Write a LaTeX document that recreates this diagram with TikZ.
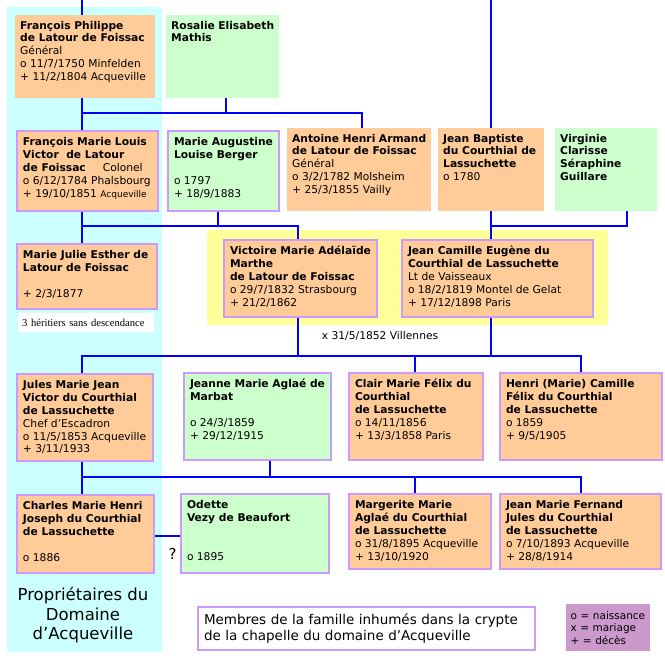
\documentclass[tikz,border=0pt]{standalone}
\usepackage{fontspec}
\setmainfont{DejaVu Sans}
\newfontfamily\notefont{Liberation Serif}
\definecolor{boxorange}{HTML}{FFCC99}
\definecolor{boxgreen}{HTML}{CCFFCC}
\definecolor{cyanbg}{HTML}{CCFFFF}
\definecolor{yellowbg}{HTML}{FFFF99}
\definecolor{edgepurple}{HTML}{CC99FF}
\definecolor{legendpurple}{HTML}{CC99CC}
\definecolor{lineblue}{HTML}{0000FF}
\pgfdeclarelayer{bg}
\pgfdeclarelayer{lines}
\pgfsetlayers{bg,lines,main}
\newcommand\boxfont{\fontsize{10.7}{12.8}\selectfont}
\newcommand\smallplace[1]{{\fontsize{9}{12.8}\selectfont #1}}
\newcommand\pb[3]{\parbox[t][#2pt][t]{#1pt}{\boxfont\raggedright\strut #3}}
\tikzset{
  person/.style={anchor=north west, inner xsep=5pt, inner ysep=5pt, draw=none},
  framed/.style={person, draw=edgepurple, line width=2pt, inner xsep=6pt, inner ysep=6pt},
  orangefill/.style={fill=boxorange},
  greenfill/.style={fill=boxgreen},
  conn/.style={draw=lineblue, line width=2pt},
}
\begin{document}
\begin{tikzpicture}[x=1pt,y=-1pt]
\useasboundingbox (0,0) rectangle (665,662);

% row 1
\node[person, orangefill] (fp) at (15,15) {\pb{130}{73}{{\bfseries François Philippe\\de Latour de Foissac}\\Général\\o 11/7/1750 Minfelden\\+ 11/2/1804 Acqueville}};
\node[person, greenfill] (rosalie) at (166,15) {\pb{103}{73}{{\bfseries Rosalie Elisabeth\\Mathis}}};

% row 2
\node[framed, orangefill] (fml) at (16,130) {\pb{129}{68}{{\bfseries François Marie Louis\\Victor\ \ de Latour\\de Foissac}\hspace{17pt}Colonel\\o 6/12/1784 Phalsbourg\\+ 19/10/1851 \smallplace{Acqueville}}};
\node[framed, greenfill] (mab) at (167,130) {\pb{99}{68}{{\bfseries Marie Augustine\\Louise Berger}\\[12.8pt]o 1797\\+ 18/9/1883}};
\node[person, orangefill] (ahaf) at (287,128) {\pb{134}{73}{{\bfseries Antoine Henri Armand\\de Latour de Foissac}\\Général\\o 3/2/1782 Molsheim\\+ 25/3/1855 Vailly}};
\node[person, orangefill] (jb) at (438,128) {\pb{96}{73}{{\bfseries Jean Baptiste\\du Courthial de\\Lassuchette}\\o 1780}};
\node[person, greenfill] (vcsg) at (555,128) {\pb{92}{73}{{\bfseries Virginie\\Clarisse\\Séraphine\\Guillare}}};

% row 3
\node[framed, orangefill] (mje) at (16,243) {\pb{128}{53}{{\bfseries Marie Julie Esther de\\Latour de Foissac}\\[12.8pt]+ 2/3/1877}};
\node[anchor=north west, fill=white, minimum width=136pt, minimum height=19pt, text width=128pt, inner xsep=4pt, inner ysep=0pt, align=left, font=\notefont\fontsize{10.6}{12}\selectfont] (her) at (18,313) {3 héritiers sans descendance};
\node[framed, orangefill] (vm) at (223,239) {\pb{141}{65}{{\bfseries Victoire Marie Adélaïde\\Marthe\\de Latour de Foissac}\\o 29/7/1832 Strasbourg\\+ 21/2/1862}};
\node[framed, orangefill] (jc) at (401,239) {\pb{179}{65}{{\bfseries Jean Camille Eugène du\\Courthial de Lassuchette}\\Lt de Vaisseaux\\o 18/2/1819 Montel de Gelat\\+ 17/12/1898 Paris}};
\node[anchor=base west, inner sep=0pt, font=\boxfont] (mar) at (321.7,339.3) {x 31/5/1852 Villennes};

% row 4
\node[framed, orangefill] (jmjv) at (16,373) {\pb{124}{75}{{\bfseries Jules Marie Jean\\Victor du Courthial\\de Lassuchette}\\Chef d’Escadron\\o 11/5/1853 Acqueville\\+ 3/11/1933}};
\node[framed, greenfill] (jmam) at (183,372) {\pb{135}{75}{{\bfseries Jeanne Marie Aglaé de\\Marbat}\\[12.8pt]o 24/3/1859\\+ 29/12/1915}};
\node[framed, orangefill] (cmf) at (348,372) {\pb{122}{75}{{\bfseries Clair Marie Félix du\\Courthial\\de Lassuchette}\\o 14/11/1856\\+ 13/3/1858 Paris}};
\node[framed, orangefill] (hmcf) at (499,372) {\pb{150}{75}{{\bfseries Henri (Marie) Camille\\Félix du Courthial\\de Lassuchette}\\o 1859\\+ 9/5/1905}};

% row 5
\node[framed, orangefill] (cmhj) at (16,494) {\pb{125}{66}{{\bfseries Charles Marie Henri\\Joseph du Courthial\\de Lassuchette}\\[12.8pt]o 1886}};
\node[framed, greenfill] (odette) at (180,493) {\pb{136}{67}{{\bfseries Odette\\Vezy de Beaufort}\\[25.6pt]o 1895}};
\node[framed, orangefill] (mmadc) at (348,493) {\pb{130}{63}{{\bfseries Margerite Marie\\Aglaé du Courthial\\de Lassuchette}\\o 31/8/1895 Acqueville\\+ 13/10/1920}};
\node[framed, orangefill] (jmfj) at (499,493) {\pb{149}{63}{{\bfseries Jean Marie Fernand\\Jules du Courthial\\de Lassuchette}\\o 7/10/1893 Acqueville\\+ 28/8/1914}};
\node[anchor=base west, inner sep=0pt, font=\fontsize{15}{18}\selectfont] (q) at (168.5,559.5) {?};

% bottom
\node[align=center, inner sep=0pt, font=\fontsize{16.5}{19.6}\selectfont] (prop) at (83,615.3) {Propriétaires du\\Domaine\\d’Acqueville};
\node[anchor=north west, draw=edgepurple, line width=2pt, fill=white, minimum width=337pt, minimum height=43pt, text width=325pt, inner xsep=6pt, align=left, font=\fontsize{13.5}{16}\selectfont] (memb) at (197,606) {Membres de la famille inhumés dans la crypte\\de la chapelle du domaine d’Acqueville};
\node[anchor=north west, fill=legendpurple, minimum width=84pt, minimum height=47pt, text width=75pt, inner xsep=4.5pt, align=left, font=\fontsize{10.5}{12.5}\selectfont] (leg) at (566,604) {o = naissance\\x = mariage\\+ = décès};

\begin{pgfonlayer}{bg}
\fill[cyanbg] (7,7) rectangle (162,652);
\fill[yellowbg] (207,230) rectangle (608,325);
\end{pgfonlayer}

\coordinate (topA) at (82,0);
\coordinate (topB) at (491,0);
\coordinate (xr) at (226,0);
\coordinate (xah) at (362,0);
\coordinate (xv) at (627,0);
\coordinate (xm) at (218,0);
\coordinate (xvm) at (298,0);
\coordinate (xjm) at (270,0);
\coordinate (xcm) at (415,0);
\coordinate (xhm) at (581,0);
\coordinate (j1) at (82,113);
\coordinate (j2) at (82,226);
\coordinate (j3) at (491,226);
\coordinate (j4) at (82,356);
\coordinate (j5) at (82,477);
\coordinate (ym) at (0,536);

\begin{pgfonlayer}{lines}
\draw[conn] (topA) -- (fp.north -| topA);
\draw[conn] (fp.south -| topA) -- (fml.north -| topA);
\draw[conn] (rosalie.south -| xr) -- (j1 -| xr);
\draw[conn] (j1) -- (j1 -| xah) -- (ahaf.north -| xah);
\draw[conn] (topB) -- (jb.north -| topB);
\draw[conn] (jb.south -| topB) -- (jc.north -| topB);
\draw[conn] (j3) -- (j3 -| xv) -- (vcsg.south -| xv);
\draw[conn] (fml.south -| topA) -- (mje.north -| topA);
\draw[conn] (mab.south -| xm) -- (j2 -| xm);
\draw[conn] (j2) -- (j2 -| xvm) -- (vm.north -| xvm);
\draw[conn] (vm.south -| xvm) -- (j4 -| xvm);
\draw[conn] (jc.south -| topB) -- (j4 -| topB);
\draw[conn] (jmjv.north -| topA) -- (j4) -- (j4 -| xhm) -- (hmcf.north -| xhm);
\draw[conn] (j4 -| xcm) -- (cmf.north -| xcm);
\draw[conn] (jmjv.south -| topA) -- (cmhj.north -| topA);
\draw[conn] (jmam.south -| xjm) -- (j5 -| xjm);
\draw[conn] (j5) -- (j5 -| xhm) -- (jmfj.north -| xhm);
\draw[conn] (j5 -| xcm) -- (mmadc.north -| xcm);
\draw[conn] (cmhj.east |- ym) -- (odette.west |- ym);
\end{pgfonlayer}
\end{tikzpicture}
\end{document}
